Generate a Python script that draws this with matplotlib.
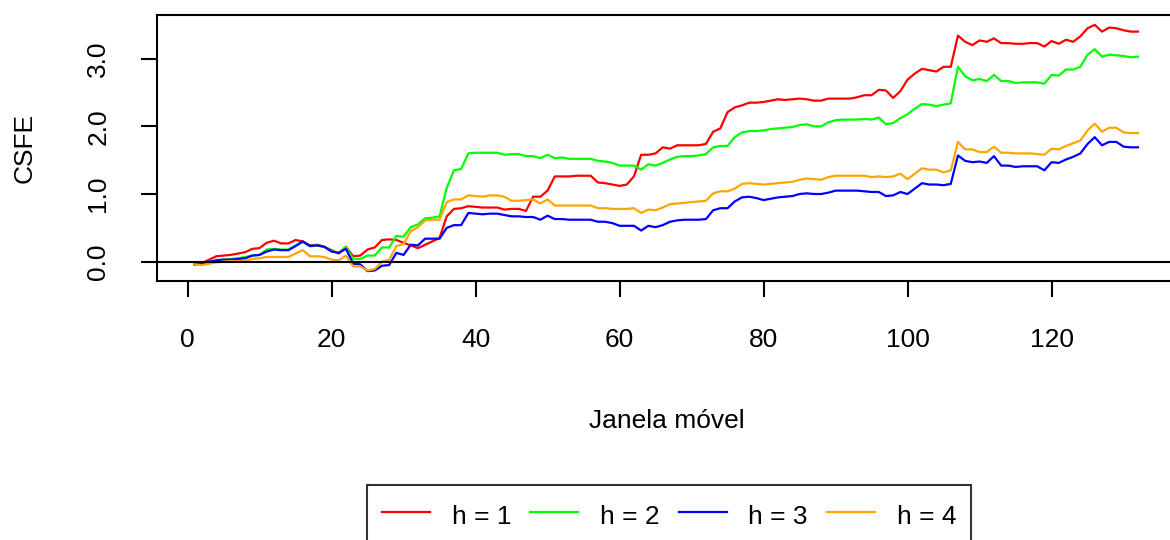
import matplotlib
matplotlib.use('Agg')
import matplotlib.pyplot as plt
import numpy as np

plt.rcParams['font.family'] = ['Liberation Sans', 'DejaVu Sans']

# CSFE por horizonte, janelas 1..132
h1 = [-0.04, -0.02, 0.03, 0.08, 0.09, 0.10, 0.12, 0.14, 0.19, 0.20,
      0.28, 0.31, 0.27, 0.27, 0.32, 0.30, 0.24, 0.25, 0.22, 0.17,
      0.12, 0.22, 0.08, 0.09, 0.18, 0.21, 0.32, 0.33, 0.32, 0.28,
      0.24, 0.20, 0.25, 0.30, 0.35, 0.67, 0.78, 0.79, 0.82, 0.81,
      0.80, 0.80, 0.80, 0.77, 0.78, 0.78, 0.75, 0.96, 0.96, 1.05,
      1.26, 1.26, 1.26, 1.27, 1.27, 1.27, 1.17, 1.16, 1.14, 1.12,
      1.14, 1.26, 1.58, 1.58, 1.60, 1.69, 1.67, 1.72, 1.72, 1.72,
      1.72, 1.74, 1.92, 1.97, 2.21, 2.28, 2.31, 2.35, 2.35, 2.36,
      2.38, 2.40, 2.39, 2.40, 2.41, 2.40, 2.38, 2.38, 2.41, 2.41,
      2.41, 2.41, 2.43, 2.46, 2.46, 2.54, 2.53, 2.42, 2.52, 2.69,
      2.78, 2.85, 2.83, 2.81, 2.88, 2.88, 3.34, 3.25, 3.20, 3.27,
      3.25, 3.30, 3.23, 3.23, 3.22, 3.22, 3.23, 3.23, 3.18, 3.26,
      3.22, 3.28, 3.25, 3.33, 3.45, 3.50, 3.40, 3.46, 3.45, 3.42,
      3.40, 3.40]

h2 = [-0.04, -0.03, 0.00, 0.02, 0.03, 0.04, 0.05, 0.07, 0.09, 0.10,
      0.18, 0.19, 0.18, 0.18, 0.24, 0.29, 0.23, 0.24, 0.22, 0.16,
      0.13, 0.22, 0.04, 0.04, 0.09, 0.09, 0.21, 0.21, 0.38, 0.37,
      0.51, 0.55, 0.64, 0.65, 0.67, 1.09, 1.35, 1.37, 1.60, 1.61,
      1.61, 1.61, 1.61, 1.58, 1.59, 1.59, 1.56, 1.56, 1.53, 1.58,
      1.53, 1.54, 1.52, 1.52, 1.52, 1.52, 1.49, 1.48, 1.46, 1.42,
      1.42, 1.42, 1.36, 1.44, 1.42, 1.46, 1.51, 1.55, 1.56, 1.56,
      1.57, 1.59, 1.69, 1.71, 1.71, 1.84, 1.91, 1.93, 1.93, 1.94,
      1.96, 1.97, 1.98, 1.99, 2.02, 2.03, 2.00, 2.00, 2.06, 2.09,
      2.10, 2.10, 2.10, 2.11, 2.10, 2.13, 2.03, 2.05, 2.12, 2.18,
      2.26, 2.33, 2.32, 2.30, 2.32, 2.34, 2.88, 2.74, 2.68, 2.70,
      2.67, 2.76, 2.67, 2.67, 2.64, 2.65, 2.65, 2.65, 2.63, 2.76,
      2.75, 2.84, 2.84, 2.88, 3.06, 3.14, 3.03, 3.06, 3.05, 3.04,
      3.02, 3.03]

h3 = [-0.04, -0.03, 0.00, 0.02, 0.03, 0.03, 0.04, 0.05, 0.09, 0.10,
      0.15, 0.18, 0.17, 0.17, 0.23, 0.30, 0.23, 0.24, 0.22, 0.15,
      0.13, 0.19, -0.03, -0.04, -0.14, -0.13, -0.06, -0.05, 0.13, 0.10,
      0.25, 0.24, 0.34, 0.34, 0.34, 0.50, 0.54, 0.54, 0.72, 0.71,
      0.70, 0.71, 0.71, 0.69, 0.67, 0.67, 0.66, 0.66, 0.62, 0.68,
      0.63, 0.63, 0.62, 0.62, 0.62, 0.62, 0.59, 0.59, 0.57, 0.53,
      0.53, 0.53, 0.46, 0.53, 0.51, 0.54, 0.59, 0.61, 0.62, 0.62,
      0.62, 0.63, 0.76, 0.79, 0.79, 0.89, 0.95, 0.96, 0.94, 0.91,
      0.93, 0.95, 0.96, 0.97, 1.00, 1.01, 1.00, 1.00, 1.02, 1.05,
      1.05, 1.05, 1.05, 1.04, 1.03, 1.03, 0.97, 0.98, 1.03, 1.00,
      1.08, 1.16, 1.14, 1.14, 1.13, 1.15, 1.57, 1.49, 1.47, 1.48,
      1.46, 1.56, 1.42, 1.42, 1.40, 1.41, 1.41, 1.41, 1.35, 1.47,
      1.46, 1.51, 1.55, 1.60, 1.74, 1.84, 1.72, 1.77, 1.77, 1.70,
      1.69, 1.69]

h4 = [-0.04, -0.05, -0.03, -0.01, 0.00, 0.01, 0.01, 0.01, 0.04, 0.05,
      0.07, 0.07, 0.07, 0.07, 0.12, 0.17, 0.08, 0.08, 0.07, 0.03,
      0.02, 0.09, -0.07, -0.07, -0.13, -0.11, 0.00, 0.03, 0.23, 0.26,
      0.45, 0.51, 0.61, 0.62, 0.62, 0.88, 0.92, 0.92, 0.98, 0.97,
      0.96, 0.98, 0.98, 0.96, 0.90, 0.90, 0.91, 0.92, 0.86, 0.92,
      0.83, 0.83, 0.83, 0.83, 0.83, 0.83, 0.79, 0.79, 0.78, 0.78,
      0.78, 0.79, 0.72, 0.77, 0.76, 0.80, 0.85, 0.86, 0.87, 0.88,
      0.89, 0.90, 1.01, 1.04, 1.04, 1.08, 1.15, 1.16, 1.15, 1.14,
      1.15, 1.16, 1.17, 1.18, 1.21, 1.23, 1.22, 1.21, 1.25, 1.27,
      1.27, 1.27, 1.27, 1.27, 1.25, 1.26, 1.25, 1.26, 1.30, 1.22,
      1.30, 1.38, 1.36, 1.36, 1.32, 1.35, 1.77, 1.66, 1.66, 1.62,
      1.62, 1.70, 1.61, 1.61, 1.60, 1.60, 1.60, 1.59, 1.58, 1.67,
      1.66, 1.71, 1.75, 1.79, 1.94, 2.04, 1.92, 1.98, 1.98, 1.91,
      1.90, 1.90]

series = [h1, h2, h3, h4]
labels = ['h = 1', 'h = 2', 'h = 3', 'h = 4']
cores = ['#FF0000', '#00FF00', '#0000FF', '#FFA500']

janela = np.arange(1, len(h1) + 1)
fs = 19

fig = plt.figure(figsize=(11.7, 5.4), dpi=100)
ax = fig.add_axes([157/1170, (540-281)/540, 1018.7/1170, 266/540])

for s, lab, c in zip(series, labels, cores):
    ax.plot(janela, s, color=c, lw=1.6, label=lab)
ax.axhline(0, color='black', lw=1.5)

# limites estilo R (4% de folga)
todos = np.concatenate(series)
ymin, ymax = todos.min(), todos.max()
dy = (ymax - ymin) * 0.04
ax.set_ylim(ymin - dy, ymax + dy)
dx = (janela[-1] - janela[0]) * 0.04
ax.set_xlim(janela[0] - dx, janela[-1] + dx)

ax.set_xticks([0, 20, 40, 60, 80, 100, 120])
ax.set_yticks([0, 1, 2, 3])
ax.set_yticklabels(['0.0', '1.0', '2.0', '3.0'], rotation=90, va='center')
ax.tick_params(labelsize=fs, length=11.5, width=1.5, pad=22, direction='out')
for sp in ax.spines.values():
    sp.set_linewidth(1.5)

ax.set_xlabel('Janela móvel', fontsize=fs)
ax.xaxis.set_label_coords(0.5, -0.525)
ax.xaxis.label.set_va('center')
ax.set_ylabel('CSFE', fontsize=fs)
ax.yaxis.set_label_coords(-0.1296, 0.5)
ax.yaxis.label.set_va('center')

leg = fig.legend(loc='upper center', bbox_to_anchor=(669/1170, 1 - 485/540),
                 ncol=4, fontsize=fs, frameon=True, fancybox=False,
                 edgecolor='black', handlelength=1.82, handleheight=1.4,
                 handletextpad=0.83, columnspacing=0.72, borderpad=0.55,
                 borderaxespad=0)
leg.get_frame().set_linewidth(1.5)

fig.savefig('out.png', dpi=100)
